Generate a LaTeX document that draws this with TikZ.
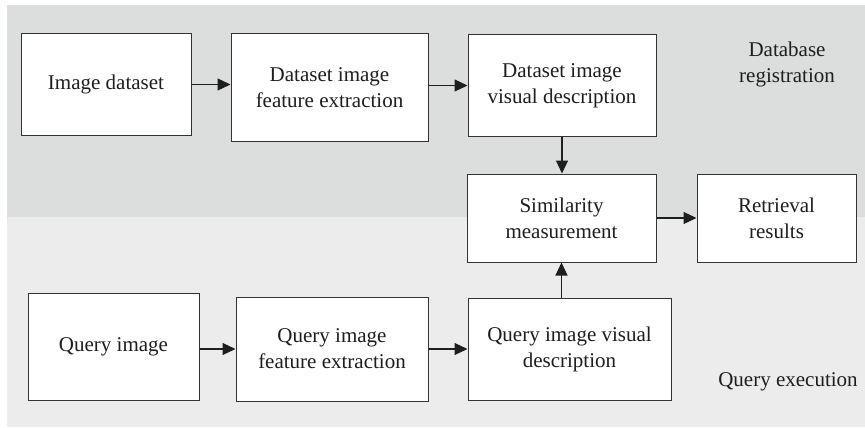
\documentclass[tikz,border=0pt]{standalone}
\usepackage{fontspec}
\setmainfont{Liberation Serif}
\usetikzlibrary{arrows.meta}
\definecolor{bandtop}{HTML}{DCDDDD}
\definecolor{bandbot}{HTML}{ECECEC}
\definecolor{edge}{HTML}{333333}
\definecolor{ink}{HTML}{1E1E1E}

\begin{document}
\begin{tikzpicture}[x=1pt,y=-1pt,
  box/.style={draw=edge, line width=1pt, fill=white, align=center,
    font=\fontsize{21}{26}\selectfont, inner sep=0pt, text=ink},
  link/.style={draw=ink, line width=1.1pt, -{Triangle[length=13pt,width=12pt]}},
  tag/.style={align=center, font=\fontsize{21}{26}\selectfont, text=ink}]

\useasboundingbox (0,0) rectangle (865,428);

% the two stage bands
\fill[bandtop] (7,5) rectangle (865,217);
\fill[bandbot] (7,217) rectangle (865,427);

% database registration row
\node[box, minimum width=170pt, minimum height=101pt] (b1) at (106,84.5) {Image dataset};
\node[box, minimum width=197pt, minimum height=107pt] (b2) at (329.5,87.5) {Dataset image\\feature extraction};
\node[box, minimum width=188pt, minimum height=101pt] (b3) at (562,85.5) {Dataset image\\visual description};

% matching and output
\node[box, minimum width=189pt, minimum height=88pt] (sim) at (561.5,218) {Similarity\\measurement};
\node[box, minimum width=159pt, minimum height=88pt] (ret) at (776.5,218) {Retrieval\\results};

% query execution row
\node[box, minimum width=171pt, minimum height=107pt] (q1) at (113.5,346.5) {Query image};
\node[box, minimum width=192pt, minimum height=104pt] (q2) at (332,349) {Query image\\feature extraction};
\node[box, minimum width=203pt, minimum height=102pt] (q3) at (569.5,349) {Query image visual\\description};

% stage labels
\node[tag] (lab1) at (787,64) {Database\\registration};
\node[tag] (lab2) at (788,382) {Query execution};

% connectors
\draw[link] (b1.east) -- (b1.east -| b2.west);
\draw[link] (b2.east |- b3.west) -- (b3.west);
\draw[link] (b3.south) -- (b3.south |- sim.north);
\draw[link] (sim.south |- q3.north) -- (sim.south);
\draw[link] (sim.east) -- (ret.west);
\draw[link] (q1.east |- q2.west) -- (q2.west);
\draw[link] (q2.east) -- (q3.west);
\end{tikzpicture}
\end{document}
